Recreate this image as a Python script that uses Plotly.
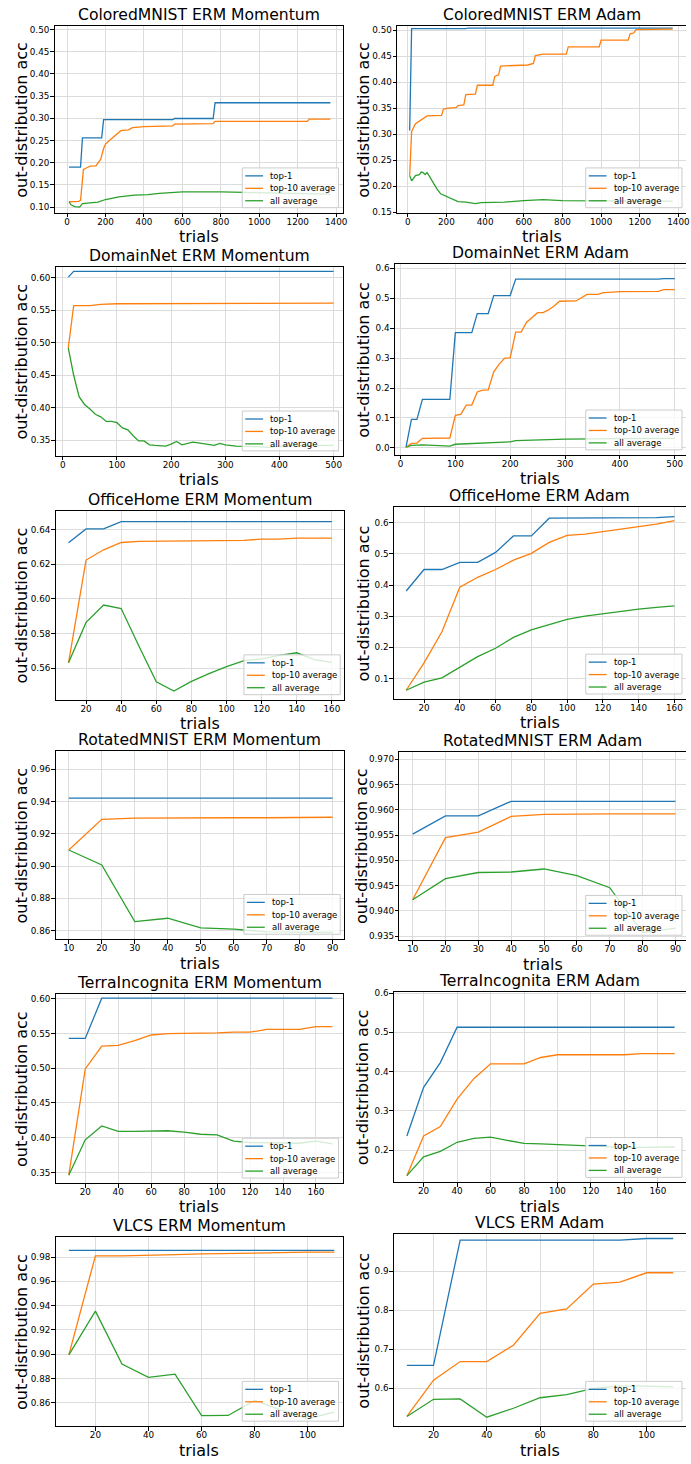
import plotly.graph_objects as go

W, H = 691, 1464

# ---------------- data ----------------
series_names = ["top-1", "top-10 average", "all average"]
series_colors = ["#1f77b4", "#ff7f0e", "#2ca02c"]

# ColoredMNIST ERM Momentum
cm_mom_top1_x = [10, 70, 80, 180, 190, 550, 560, 760, 770, 1370]
cm_mom_top1 = [0.190, 0.190, 0.256, 0.256, 0.297, 0.297, 0.2995, 0.2995, 0.335, 0.335]
cm_mom_top10_x = [10, 60, 70, 85, 100, 120, 150, 165, 175, 190, 200, 220, 250, 280, 320, 340, 400, 550, 560, 760, 770, 1250, 1260, 1370]
cm_mom_top10 = [0.112, 0.113, 0.115, 0.185, 0.188, 0.192, 0.193, 0.203, 0.208, 0.232, 0.242, 0.250, 0.260, 0.272, 0.274, 0.279, 0.281, 0.283, 0.287, 0.288, 0.293, 0.293, 0.298, 0.298]
cm_mom_all_x = [10, 20, 40, 65, 80, 120, 160, 200, 270, 350, 420, 480, 560, 600, 800, 1000, 1200, 1370]
cm_mom_all = [0.112, 0.105, 0.101, 0.100, 0.108, 0.109, 0.111, 0.117, 0.123, 0.127, 0.128, 0.131, 0.133, 0.134, 0.134, 0.132, 0.130, 0.129]

# ColoredMNIST ERM Adam
cm_adam_top1_x = [10, 20, 300, 310, 1370]
cm_adam_top1 = [0.307, 0.503, 0.503, 0.504, 0.504]
cm_adam_top10_x = [10, 20, 40, 70, 100, 175, 185, 210, 250, 260, 290, 300, 350, 360, 440, 450, 470, 480, 560, 620, 650, 660, 700, 820, 830, 990, 1000, 1140, 1150, 1170, 1180, 1370]
cm_adam_top10 = [0.220, 0.305, 0.320, 0.328, 0.335, 0.336, 0.348, 0.350, 0.351, 0.355, 0.356, 0.376, 0.377, 0.394, 0.394, 0.411, 0.414, 0.431, 0.432, 0.433, 0.436, 0.451, 0.454, 0.454, 0.468, 0.468, 0.481, 0.481, 0.493, 0.495, 0.501, 0.502]
cm_adam_all_x = [10, 20, 40, 60, 70, 80, 90, 100, 110, 130, 150, 170, 200, 230, 260, 300, 350, 380, 450, 500, 600, 700, 800, 1000, 1200, 1370]
cm_adam_all = [0.220, 0.210, 0.220, 0.222, 0.227, 0.226, 0.222, 0.226, 0.220, 0.207, 0.195, 0.185, 0.180, 0.175, 0.170, 0.169, 0.166, 0.168, 0.168, 0.169, 0.172, 0.174, 0.172, 0.171, 0.171, 0.171]

# DomainNet ERM Momentum
dn_mom_top1_x = [10, 20, 500]
dn_mom_top1 = [0.601, 0.610, 0.610]
dn_mom_top10_x = [10, 20, 50, 70, 100, 500]
dn_mom_top10 = [0.492, 0.557, 0.557, 0.559, 0.560, 0.561]
dn_mom_all_x = [10, 20, 30, 40, 50, 60, 70, 80, 90, 100, 110, 120, 130, 140, 150, 160, 170, 180, 190, 200,
                210, 220, 230, 240, 250, 260, 270, 280, 290, 300, 320, 340, 360, 380, 400, 450, 500]
dn_mom_all = [0.492, 0.450, 0.417, 0.405, 0.398, 0.390, 0.386, 0.379, 0.379, 0.377, 0.369, 0.366, 0.357, 0.349, 0.349,
              0.343, 0.342, 0.341, 0.341, 0.344, 0.348, 0.343, 0.345, 0.347, 0.346, 0.345, 0.344, 0.342, 0.345, 0.343,
              0.341, 0.341, 0.340, 0.339, 0.341, 0.342, 0.342]

# DomainNet ERM Adam
dn_adam_top1_x = [10, 20, 30, 40, 90, 100, 130, 140, 160, 170, 200, 210, 470, 480, 500]
dn_adam_top1 = [0.002, 0.095, 0.095, 0.162, 0.162, 0.385, 0.385, 0.449, 0.449, 0.509, 0.509, 0.564, 0.564, 0.566, 0.566]
dn_adam_top10_x = [10, 20, 30, 40, 90, 100, 110, 120, 130, 140, 150, 160, 170, 180, 190, 200, 210, 220, 230, 240,
                   250, 260, 270, 280, 290, 320, 330, 340, 360, 370, 380, 400, 470, 480, 500]
dn_adam_top10 = [0.002, 0.015, 0.016, 0.032, 0.033, 0.109, 0.112, 0.143, 0.143, 0.187, 0.193, 0.194, 0.254, 0.280, 0.300,
                 0.301, 0.387, 0.387, 0.420, 0.436, 0.452, 0.452, 0.461, 0.474, 0.490, 0.491, 0.503, 0.513, 0.513, 0.519,
                 0.520, 0.522, 0.523, 0.529, 0.529]
dn_adam_all_x = [10, 20, 40, 90, 100, 150, 200, 210, 300, 400, 500]
dn_adam_all = [0.002, 0.008, 0.010, 0.006, 0.012, 0.016, 0.020, 0.024, 0.029, 0.031, 0.032]

# OfficeHome
oh_trials = [10, 20, 30, 40, 50, 60, 70, 80, 90, 100, 110, 120, 130, 140, 150, 160]
oh_mom_top1 = [0.6323, 0.6403, 0.6403, 0.6445, 0.6445, 0.6445, 0.6445, 0.6445, 0.6445, 0.6445, 0.6445, 0.6445, 0.6445, 0.6445, 0.6445, 0.6445]
oh_mom_top10 = [0.5632, 0.6224, 0.6283, 0.6325, 0.6332, 0.6333, 0.6334, 0.6334, 0.6334, 0.6335, 0.6337, 0.6345, 0.6345, 0.6350, 0.6350, 0.6350]
oh_mom_all = [0.5632, 0.5865, 0.5965, 0.5945, 0.5730, 0.5523, 0.5470, 0.5525, 0.5570, 0.5610, 0.5645, 0.5655, 0.5675, 0.5690, 0.5650, 0.5635]
oh_adam_top1 = [0.381, 0.450, 0.450, 0.473, 0.473, 0.505, 0.558, 0.558, 0.615, 0.615, 0.615, 0.615, 0.615, 0.615, 0.617, 0.620]
oh_adam_top10 = [0.062, 0.150, 0.250, 0.393, 0.425, 0.450, 0.480, 0.502, 0.537, 0.560, 0.564, 0.572, 0.578, 0.586, 0.596, 0.607]
oh_adam_all = [0.062, 0.088, 0.102, 0.135, 0.170, 0.197, 0.232, 0.256, 0.273, 0.290, 0.300, 0.308, 0.315, 0.323, 0.328, 0.333]

# RotatedMNIST
rm_trials = [10, 20, 30, 40, 50, 60, 70, 80, 90]
rm_mom_top1 = [0.9422, 0.9422, 0.9422, 0.9422, 0.9422, 0.9422, 0.9422, 0.9422, 0.9422]
rm_mom_top10 = [0.9100, 0.9290, 0.9297, 0.9299, 0.9300, 0.9300, 0.9300, 0.9302, 0.9303]
rm_mom_all = [0.9100, 0.9007, 0.8656, 0.8677, 0.8617, 0.8610, 0.8592, 0.8589, 0.8589]
rm_adam_top1 = [0.9552, 0.9588, 0.9588, 0.9617, 0.9617, 0.9617, 0.9617, 0.9617, 0.9617]
rm_adam_top10 = [0.9422, 0.9545, 0.9556, 0.9587, 0.9591, 0.9592, 0.9592, 0.9592, 0.9592]
rm_adam_all = [0.9422, 0.9464, 0.9476, 0.9477, 0.9483, 0.9470, 0.9446, 0.9357, 0.9366]

# TerraIncognita
ti_trials = [10, 20, 30, 40, 50, 60, 70, 80, 90, 100, 110, 120, 130, 140, 150, 160, 170]
ti_mom_top1 = [0.543, 0.543, 0.601, 0.601, 0.601, 0.601, 0.601, 0.601, 0.601, 0.601, 0.601, 0.601, 0.601, 0.601, 0.601, 0.601, 0.601]
ti_mom_top10 = [0.346, 0.499, 0.532, 0.533, 0.540, 0.548, 0.550, 0.550, 0.550, 0.551, 0.552, 0.552, 0.556, 0.556, 0.556, 0.560, 0.560]
ti_mom_all = [0.346, 0.397, 0.417, 0.409, 0.409, 0.409, 0.410, 0.408, 0.405, 0.404, 0.395, 0.393, 0.393, 0.393, 0.392, 0.395, 0.391]
ti_adam_top1 = [0.236, 0.360, 0.423, 0.513, 0.513, 0.513, 0.513, 0.513, 0.513, 0.513, 0.513, 0.513, 0.513, 0.513, 0.513, 0.513, 0.513]
ti_adam_top10 = [0.135, 0.236, 0.260, 0.330, 0.382, 0.420, 0.420, 0.420, 0.436, 0.443, 0.443, 0.443, 0.443, 0.443, 0.446, 0.446, 0.446]
ti_adam_all = [0.135, 0.183, 0.197, 0.220, 0.230, 0.233, 0.225, 0.217, 0.216, 0.214, 0.212, 0.210, 0.209, 0.207, 0.207, 0.207, 0.208]

# VLCS
vl_trials = [10, 20, 30, 40, 50, 60, 70, 80, 90, 100, 110]
vl_mom_top1 = [0.9855, 0.9855, 0.9855, 0.9855, 0.9855, 0.9855, 0.9855, 0.9855, 0.9855, 0.9855, 0.9855]
vl_mom_top10 = [0.8995, 0.9810, 0.9810, 0.9812, 0.9820, 0.9825, 0.9830, 0.9835, 0.9838, 0.9840, 0.9840]
vl_mom_all = [0.8995, 0.9355, 0.8920, 0.8810, 0.8837, 0.8495, 0.8497, 0.8620, 0.8540, 0.8470, 0.8525]
vl_adam_top1 = [0.658, 0.658, 0.980, 0.980, 0.980, 0.980, 0.980, 0.980, 0.980, 0.984, 0.984]
vl_adam_top10 = [0.527, 0.620, 0.668, 0.668, 0.710, 0.792, 0.803, 0.867, 0.872, 0.896, 0.896]
vl_adam_all = [0.527, 0.571, 0.572, 0.525, 0.548, 0.575, 0.583, 0.599, 0.605, 0.605, 0.603]

# tick values
ticks_x_1400 = [0, 200, 400, 600, 800, 1000, 1200, 1400]
ticks_x_500 = [0, 100, 200, 300, 400, 500]
ticks_x_160 = [20, 40, 60, 80, 100, 120, 140, 160]
ticks_x_90 = [10, 20, 30, 40, 50, 60, 70, 80, 90]
ticks_x_100 = [20, 40, 60, 80, 100]
ticks_y_cm_mom = [0.10, 0.15, 0.20, 0.25, 0.30, 0.35, 0.40, 0.45, 0.50]
ticks_y_cm_adam = [0.15, 0.20, 0.25, 0.30, 0.35, 0.40, 0.45, 0.50]
ticks_y_dn_mom = [0.35, 0.40, 0.45, 0.50, 0.55, 0.60]
ticks_y_dn_adam = [0.0, 0.1, 0.2, 0.3, 0.4, 0.5, 0.6]
ticks_y_oh_mom = [0.56, 0.58, 0.60, 0.62, 0.64]
ticks_y_oh_adam = [0.1, 0.2, 0.3, 0.4, 0.5, 0.6]
ticks_y_rm_mom = [0.86, 0.88, 0.90, 0.92, 0.94, 0.96]
ticks_y_rm_adam = [0.935, 0.940, 0.945, 0.950, 0.955, 0.960, 0.965, 0.970]
ticks_y_ti_mom = [0.35, 0.40, 0.45, 0.50, 0.55, 0.60]
ticks_y_ti_adam = [0.2, 0.3, 0.4, 0.5, 0.6]
ticks_y_vl_mom = [0.86, 0.88, 0.90, 0.92, 0.94, 0.96, 0.98]
ticks_y_vl_adam = [0.6, 0.7, 0.8, 0.9]

panels = [
    dict(title="ColoredMNIST ERM Momentum",
         series=[(cm_mom_top1_x, cm_mom_top1), (cm_mom_top10_x, cm_mom_top10), (cm_mom_all_x, cm_mom_all)],
         xr=[-65, 1433], yr=[0.0873, 0.5075], xt=ticks_x_1400, yt=ticks_y_cm_mom, yf=".2f"),
    dict(title="ColoredMNIST ERM Adam",
         series=[(cm_adam_top1_x, cm_adam_top1), (cm_adam_top10_x, cm_adam_top10), (cm_adam_all_x, cm_adam_all)],
         xr=[-55, 1439], yr=[0.1487, 0.5077], xt=ticks_x_1400, yt=ticks_y_cm_adam, yf=".2f"),
    dict(title="DomainNet ERM Momentum",
         series=[(dn_mom_top1_x, dn_mom_top1), (dn_mom_top10_x, dn_mom_top10), (dn_mom_all_x, dn_mom_all)],
         xr=[-13.4, 516.5], yr=[0.326, 0.617], xt=ticks_x_500, yt=ticks_y_dn_mom, yf=".2f"),
    dict(title="DomainNet ERM Adam",
         series=[(dn_adam_top1_x, dn_adam_top1), (dn_adam_top10_x, dn_adam_top10), (dn_adam_all_x, dn_adam_all)],
         xr=[-10.3, 520.5], yr=[-0.0233, 0.6144], xt=ticks_x_500, yt=ticks_y_dn_adam, yf=".1f"),
    dict(title="OfficeHome ERM Momentum",
         series=[(oh_trials, oh_mom_top1), (oh_trials, oh_mom_top10), (oh_trials, oh_mom_all)],
         xr=[2.65, 167.0], yr=[0.542, 0.6509], xt=ticks_x_160, yt=ticks_y_oh_mom, yf=".2f"),
    dict(title="OfficeHome ERM Adam",
         series=[(oh_trials, oh_adam_top1), (oh_trials, oh_adam_top10), (oh_trials, oh_adam_all)],
         xr=[3.1, 166.5], yr=[0.034, 0.650], xt=ticks_x_160, yt=ticks_y_oh_adam, yf=".1f"),
    dict(title="RotatedMNIST ERM Momentum",
         series=[(rm_trials, rm_mom_top1), (rm_trials, rm_mom_top10), (rm_trials, rm_mom_all)],
         xr=[6.0, 93.5], yr=[0.8547, 0.9713], xt=ticks_x_90, yt=ticks_y_rm_mom, yf=".2f"),
    dict(title="RotatedMNIST ERM Adam",
         series=[(rm_trials, rm_adam_top1), (rm_trials, rm_adam_top10), (rm_trials, rm_adam_all)],
         xr=[5.97, 93.2], yr=[0.9342, 0.97144], xt=ticks_x_90, yt=ticks_y_rm_adam, yf=".3f"),
    dict(title="TerraIncognita ERM Momentum",
         series=[(ti_trials, ti_mom_top1), (ti_trials, ti_mom_top10), (ti_trials, ti_mom_all)],
         xr=[2.0, 176.1], yr=[0.3347, 0.6067], xt=ticks_x_160, yt=ticks_y_ti_mom, yf=".2f"),
    dict(title="TerraIncognita ERM Adam",
         series=[(ti_trials, ti_adam_top1), (ti_trials, ti_adam_top10), (ti_trials, ti_adam_all)],
         xr=[2.2, 176.8], yr=[0.118, 0.604], xt=ticks_x_160, yt=ticks_y_ti_adam, yf=".1f"),
    dict(title="VLCS ERM Momentum",
         series=[(vl_trials, vl_mom_top1), (vl_trials, vl_mom_top10), (vl_trials, vl_mom_all)],
         xr=[5.0, 113.1], yr=[0.8409, 0.9964], xt=ticks_x_100, yt=ticks_y_vl_mom, yf=".2f"),
    dict(title="VLCS ERM Adam",
         series=[(vl_trials, vl_adam_top1), (vl_trials, vl_adam_top10), (vl_trials, vl_adam_all)],
         xr=[5.1, 114.8], yr=[0.502, 0.9946], xt=ticks_x_100, yt=ticks_y_vl_adam, yf=".1f"),
]

# ---------------- layout (pixel boxes of each axes: left, right, top, bottom) ----------------
boxes = [
    (55, 345, 23.3, 210.7), (400, 691, 23.3, 210.7),
    (56, 345, 265, 455), (397.7, 691, 262.3, 454),
    (56, 346.7, 510, 700), (396.7, 691, 506.7, 699.3),
    (56, 346.7, 751.7, 940.7), (402.3, 691, 752.7, 941.7),
    (56, 345, 996, 1185.7), (396.7, 691, 993.3, 1185),
    (56, 345, 1240, 1430), (396.7, 691, 1237.3, 1430),
]
ylabel_x = [21.5, 366, 21.5, 366, 21.5, 366, 21.5, 363.5, 21.5, 366, 21.5, 366]

FONT = "DejaVu Sans"


def fx(p):
    return p / W


def fy(p):
    return 1 - p / H


fig = go.Figure()
shapes = []
annotations = []

for i, (pan, box) in enumerate(zip(panels, boxes), start=1):
    l, r, t, b = box
    right_col = (i % 2 == 0)
    xa = "x" if i == 1 else f"x{i}"
    ya = "y" if i == 1 else f"y{i}"
    for (xs, ys), name, col in zip(pan["series"], series_names, series_colors):
        fig.add_trace(go.Scatter(x=xs, y=ys, mode="lines", name=name, showlegend=False,
                                 line=dict(color=col, width=1.3), xaxis=xa, yaxis=ya,
                                 hoverinfo="skip"))
    common = dict(showline=True, linecolor="black", linewidth=1, ticks="outside", ticklen=3.5,
                  tickwidth=1, tickcolor="black", showgrid=True, gridcolor="#dcdcdc", gridwidth=1,
                  zeroline=False, tickfont=dict(family=FONT, size=8.8, color="black"))
    fig.layout[("xaxis" if i == 1 else f"xaxis{i}")] = dict(
        domain=[fx(l), fx(r)], range=pan["xr"], anchor=ya, tickvals=pan["xt"],
        mirror=True, ticklabelstandoff=-3, **common)
    fig.layout[("yaxis" if i == 1 else f"yaxis{i}")] = dict(
        domain=[fy(b), fy(t)], range=pan["yr"], anchor=xa, tickvals=pan["yt"],
        tickformat=pan["yf"], mirror=(not right_col), ticklabelstandoff=-1, **common)

    # title
    annotations.append(dict(text=pan["title"], x=fx((l + r) / 2), y=fy(t), xref="paper", yref="paper",
                            xanchor="center", yanchor="bottom", showarrow=False,
                            font=dict(family=FONT, size=15.6, color="black")))
    # x label
    annotations.append(dict(text="trials", x=fx((l + r) / 2), y=fy(b + 24), xref="paper", yref="paper",
                            xanchor="center", yanchor="middle", showarrow=False,
                            font=dict(family=FONT, size=16, color="black")))
    # y label
    annotations.append(dict(text="out-distribution acc", x=fx(ylabel_x[i - 1]), y=fy((t + b) / 2),
                            xref="paper", yref="paper", xanchor="center", yanchor="middle",
                            textangle=-90, showarrow=False,
                            font=dict(family=FONT, size=16, color="black")))

    # legend box (matplotlib style, lower right)
    bw, bh = 97, 40
    br = (r - 4) if not right_col else 687
    bb = b - 5
    bl, bt = br - bw, bb - bh
    shapes.append(dict(type="rect", xref="paper", yref="paper", x0=fx(bl), x1=fx(br), y0=fy(bb), y1=fy(bt),
                       fillcolor="rgba(255,255,255,0.8)", line=dict(color="#cccccc", width=1), layer="above"))
    for k, (name, col) in enumerate(zip(series_names, series_colors)):
        yc = bt + 8 + 12.5 * k
        shapes.append(dict(type="line", xref="paper", yref="paper", x0=fx(bl + 3), x1=fx(bl + 21),
                           y0=fy(yc), y1=fy(yc), line=dict(color=col, width=1.3), layer="above"))
        annotations.append(dict(text=name, x=fx(bl + 26), y=fy(yc), xref="paper", yref="paper",
                                xanchor="left", yanchor="middle", showarrow=False,
                                font=dict(family=FONT, size=8.5, color="black")))

fig.update_layout(width=W, height=H, autosize=False, margin=dict(l=0, r=0, t=0, b=0),
                  plot_bgcolor="white", paper_bgcolor="white", showlegend=False,
                  shapes=shapes, annotations=annotations, font=dict(family=FONT))

fig.write_html("out.html", config={"displayModeBar": False},
               post_script="document.body.style.margin='0';document.body.style.overflow='hidden';")
